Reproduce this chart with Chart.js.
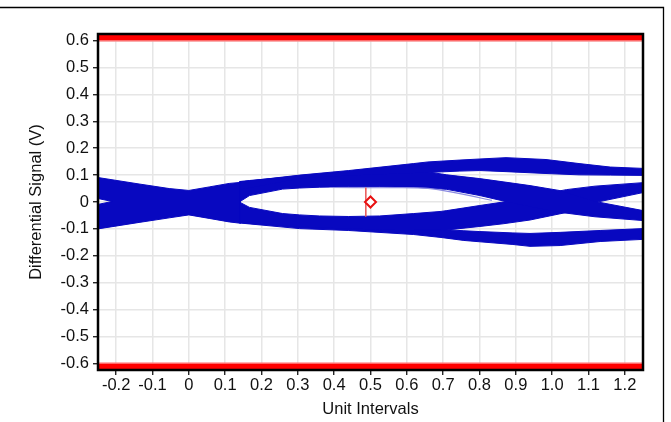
<!DOCTYPE html>
<html><head><meta charset="utf-8">
<script src="https://cdn.jsdelivr.net/npm/chart.js@4.4.0/dist/chart.umd.min.js"></script>
<style>html,body{margin:0;padding:0;background:#fff;}canvas{display:block;}</style>
</head><body>
<canvas id="c" width="671" height="422"></canvas>
<script>
// ---- axis ticks ----
const xTickValues = [-0.2,-0.1,0,0.1,0.2,0.3,0.4,0.5,0.6,0.7,0.8,0.9,1.0,1.1,1.2];
const xTickLabels = ['-0.2','-0.1','0','0.1','0.2','0.3','0.4','0.5','0.6','0.7','0.8','0.9','1.0','1.1','1.2'];
const yTickValues = [0.6,0.5,0.4,0.3,0.2,0.1,0,-0.1,-0.2,-0.3,-0.4,-0.5,-0.6];
const yTickLabels = ['0.6','0.5','0.4','0.3','0.2','0.1','0','-0.1','-0.2','-0.3','-0.4','-0.5','-0.6'];

// ---- eye-diagram trace bands (Unit Intervals, Volts) ----
const leftCrossX      = [-0.25,-0.137,-0.054,0.0,0.056,0.111,0.142];
const leftCrossTop    = [0.091,0.067,0.050,0.043,0.056,0.069,0.073];
const leftCrossBottom = [-0.100,-0.076,-0.059,-0.048,-0.061,-0.074,-0.079];
const leftNotchX      = [-0.25,-0.211,-0.25];
const leftNotchY      = [-0.009,0.002,0.013];

const upperRailX      = [0.139,0.305,0.44,0.619,0.658,0.746,0.801,0.873,0.983,1.074,1.16,1.25];
const upperRailTop    = [0.074,0.100,0.117,0.143,0.149,0.156,0.160,0.165,0.158,0.143,0.130,0.125];
const upperRailBottom = [0.046,0.087,0.099,0.108,0.110,0.115,0.117,0.113,0.106,0.101,0.100,0.099];

const fallingX        = [0.139,0.167,0.258,0.305,0.36,0.44,0.525,0.619,0.658,0.71,0.801,0.865,0.939,1.019,1.118,1.25];
const fallingTop      = [0.076,0.080,0.091,0.095,0.098,0.102,0.108,0.113,0.112,0.101,0.087,0.075,0.061,0.043,0.002,-0.032];
const fallingBottom   = [0.0,0.024,0.048,0.052,0.055,0.057,0.057,0.055,0.052,0.047,0.024,0.004,-0.017,-0.038,-0.055,-0.069];

const risingX         = [0.139,0.167,0.258,0.305,0.36,0.44,0.525,0.619,0.694,0.71,0.801,0.865,0.939,1.039,1.118,1.25];
const risingTop       = [0.0,-0.020,-0.043,-0.048,-0.052,-0.054,-0.052,-0.043,-0.035,-0.032,-0.013,0.0,0.020,0.046,0.059,0.072];
const risingBottom    = [-0.076,-0.080,-0.087,-0.091,-0.095,-0.099,-0.102,-0.106,-0.106,-0.104,-0.091,-0.081,-0.067,-0.039,-0.002,0.035];

const lowerRailX      = [0.139,0.305,0.44,0.619,0.694,0.757,0.801,0.892,0.939,1.022,1.132,1.25];
const lowerRailTop    = [-0.043,-0.084,-0.095,-0.102,-0.102,-0.107,-0.110,-0.115,-0.117,-0.113,-0.106,-0.099];
const lowerRailBottom = [-0.078,-0.099,-0.106,-0.121,-0.132,-0.143,-0.148,-0.158,-0.165,-0.162,-0.147,-0.139];

// faint single outlier trace inside the eye
const strayTraceX = [0.387,0.525,0.658,0.746,0.834];
const strayTraceY = [0.054,0.053,0.051,0.031,0.006];

// ---- mask limits, eye centre marker ----
const maskX = [-0.25, 1.25];
const maskUpper = 0.6;
const maskLower = -0.6;
const eyeCenterX = [0.5];
const eyeCenterY = [0];
const cursorX = [0.487, 0.487];
const cursorY = [0.053, -0.054];

function band(xs, top, bot) {
  const pts = xs.map((x, i) => ({x: x, y: top[i]}));
  for (let i = xs.length - 1; i >= 0; i--) pts.push({x: xs[i], y: bot[i]});
  return pts;
}
const leftPoly = band(leftCrossX, leftCrossTop, leftCrossBottom)
  .concat(leftNotchX.map((x, i) => ({x: x, y: leftNotchY[i]})));

const BLUE = '#0808c0';
function bandDs(data) {
  return {data: data, showLine: true, fill: 'shape', backgroundColor: BLUE, borderColor: BLUE,
          borderWidth: 1, pointRadius: 0, tension: 0, order: 5, clip: 0};
}

const FONT = 'Liberation Sans, Arial, sans-serif';

const framePlugin = {
  id: 'frame',
  beforeDraw(chart) {
    const c = chart.ctx;
    c.save();
    c.fillStyle = '#fff';
    c.fillRect(0, 0, chart.width, chart.height);
    c.strokeStyle = '#000';
    c.lineWidth = 1.3;
    c.beginPath();
    c.moveTo(0, 7.5); c.lineTo(663.5, 7.5); c.lineTo(663.5, 422);
    c.stroke();
    c.restore();
  },
  afterDatasetsDraw(chart) {
    const a = chart.chartArea, c = chart.ctx;
    c.save();
    c.strokeStyle = '#000';
    c.lineWidth = 2.5;
    c.strokeRect(a.left, a.top, a.right - a.left, a.bottom - a.top);
    c.restore();
  }
};

new Chart(document.getElementById('c'), {
  type: 'scatter',
  data: {
    datasets: [
      {data: eyeCenterX.map((x, i) => ({x: x, y: eyeCenterY[i]})), pointStyle: 'rectRot', pointRadius: 5.5,
       pointBorderWidth: 2, pointBorderColor: '#e81010', pointBackgroundColor: '#fff', order: 0, showLine: false},
      {data: cursorX.map((x, i) => ({x: x, y: cursorY[i]})), showLine: true, borderColor: '#e86060',
       borderWidth: 1, pointRadius: 0, order: 1},
      {data: maskX.map(x => ({x: x, y: maskUpper})), showLine: true, fill: 'end', backgroundColor: '#ff0000',
       borderColor: '#ff6a6a', borderWidth: 1.5, pointRadius: 0, order: 2, clip: 0},
      {data: maskX.map(x => ({x: x, y: maskLower})), showLine: true, fill: 'start', backgroundColor: '#ff0000',
       borderColor: '#ff6a6a', borderWidth: 1.5, pointRadius: 0, order: 2, clip: 0},
      {data: strayTraceX.map((x, i) => ({x: x, y: strayTraceY[i]})), showLine: true, borderColor: '#8a8ae0',
       borderWidth: 1.2, pointRadius: 0, tension: 0.3, order: 3},
      bandDs(leftPoly),
      bandDs(band(upperRailX, upperRailTop, upperRailBottom)),
      bandDs(band(fallingX, fallingTop, fallingBottom)),
      bandDs(band(risingX, risingTop, risingBottom)),
      bandDs(band(lowerRailX, lowerRailTop, lowerRailBottom))
    ]
  },
  options: {
    responsive: false,
    animation: false,
    devicePixelRatio: 1,
    events: [],
    layout: {padding: {left: 0, top: 34, right: 28, bottom: 0}},
    plugins: {legend: {display: false}, tooltip: {enabled: false}},
    scales: {
      x: {
        type: 'linear', min: -0.25, max: 1.25,
        afterBuildTicks: s => { s.ticks = xTickValues.map(v => ({value: v})); },
        afterFit: s => { s.height = 52; },
        ticks: {callback: (v, i) => xTickLabels[i], color: '#111', font: {family: FONT, size: 16.5},
                padding: 1, maxRotation: 0, autoSkip: false},
        grid: {color: '#e6e6e6', lineWidth: 1.5, tickColor: '#000', tickWidth: 1.2, tickLength: 5},
        border: {display: true, color: '#000', width: 2},
        title: {display: true, text: 'Unit Intervals', color: '#111', font: {family: FONT, size: 16.5},
                padding: {top: 0, bottom: 3}}
      },
      y: {
        type: 'linear', min: -0.625, max: 0.625,
        afterBuildTicks: s => { s.ticks = yTickValues.map(v => ({value: v})); },
        afterFit: s => { s.width = 98; },
        ticks: {callback: (v, i) => yTickLabels[i], color: '#111', font: {family: FONT, size: 16.5},
                padding: 4, autoSkip: false},
        grid: {color: '#e6e6e6', lineWidth: 1.5, tickColor: '#000', tickWidth: 1.2, tickLength: 5},
        border: {display: true, color: '#000', width: 2},
        title: {display: true, text: 'Differential Signal (V)', color: '#111', font: {family: FONT, size: 16.5},
                padding: {top: 27, bottom: 0}}
      }
    }
  },
  plugins: [framePlugin]
});
</script>
</body></html>
